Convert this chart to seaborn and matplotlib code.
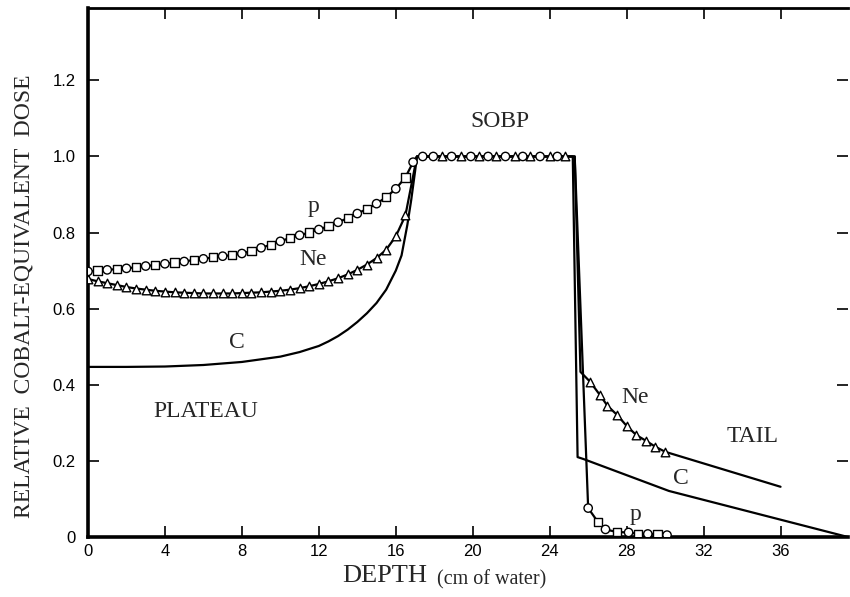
import matplotlib
matplotlib.use("Agg")
import matplotlib.pyplot as plt
import seaborn as sns
import pandas as pd

# ---------------- data ----------------
# proton (p) - entrance plateau, markers every 0.5 cm
p_rise_depth = [0, 0.5, 1, 1.5, 2, 2.5, 3, 3.5, 4, 4.5, 5, 5.5, 6, 6.5, 7, 7.5, 8,
                8.5, 9, 9.5, 10, 10.5, 11, 11.5, 12, 12.5, 13, 13.5, 14, 14.5,
                15, 15.5, 16, 16.5, 16.9]
p_rise_dose = [0.698, 0.700, 0.702, 0.704, 0.706, 0.709, 0.712, 0.715, 0.718,
               0.721, 0.724, 0.728, 0.731, 0.735, 0.738, 0.741, 0.745, 0.752,
               0.760, 0.768, 0.777, 0.786, 0.793, 0.800, 0.808, 0.817, 0.827,
               0.838, 0.850, 0.862, 0.876, 0.893, 0.915, 0.945, 0.985]
p_sobp_depth = [17.4, 17.95, 18.9, 19.9, 20.8, 21.7, 22.6, 23.5, 24.4]
p_tail_depth = [26.0, 26.5, 26.9, 27.5, 28.1, 28.6, 29.1, 29.6, 30.1]
p_tail_dose = [0.076, 0.040, 0.020, 0.013, 0.012, 0.008, 0.008, 0.008, 0.005]

# neon (Ne)
ne_rise_depth = [0, 0.5, 1, 1.5, 2, 2.5, 3, 3.5, 4, 4.5, 5, 5.5, 6, 6.5, 7, 7.5, 8,
                 8.5, 9, 9.5, 10, 10.5, 11, 11.5, 12, 12.5, 13, 13.5, 14, 14.5,
                 15, 15.5, 16, 16.5]
ne_rise_dose = [0.678, 0.672, 0.667, 0.662, 0.657, 0.653, 0.650, 0.647, 0.645,
                0.643, 0.642, 0.641, 0.640, 0.640, 0.640, 0.640, 0.641, 0.642,
                0.643, 0.645, 0.647, 0.650, 0.654, 0.659, 0.665, 0.672, 0.680,
                0.690, 0.702, 0.716, 0.733, 0.755, 0.790, 0.845]
ne_sobp_depth = [18.4, 19.4, 20.3, 21.2, 22.2, 23.0, 24.0, 24.8]
ne_tail_depth = [26.1, 26.6, 27.0, 27.5, 28.0, 28.5, 29.0, 29.5, 30.0]
ne_tail_dose = [0.408, 0.374, 0.345, 0.321, 0.292, 0.268, 0.253, 0.237, 0.224]
ne_tail_end_depth = [36.0]
ne_tail_end_dose = [0.132]

# carbon (C) - line only
c_depth = [0, 2, 4, 6, 8, 10, 11, 12, 12.5, 13, 13.5, 14, 14.5, 15, 15.5, 16,
           16.3, 16.6, 16.8, 17.0, 17.1, 25.2, 25.45, 25.75, 30.2, 39.5]
c_dose = [0.447, 0.447, 0.448, 0.452, 0.460, 0.474, 0.486, 0.502, 0.514, 0.528,
          0.545, 0.565, 0.588, 0.615, 0.650, 0.700, 0.740, 0.820, 0.885, 0.960,
          1.0, 1.0, 0.210, 0.205, 0.121, 0.0]

sobp_start = 17.1
sobp_end = 25.3
sobp_dose = 1.0

x_ticks = [0, 4, 8, 12, 16, 20, 24, 28, 32, 36]
y_ticks = [0, 0.2, 0.4, 0.6, 0.8, 1.0, 1.2]
y_ticklabels = ["0", "0.2", "0.4", "0.6", "0.8", "1.0", "1.2"]

# ---------------- build tables ----------------
p_line = pd.DataFrame({
    "depth": p_rise_depth + [sobp_start] + p_sobp_depth + [sobp_end] + p_tail_depth,
    "dose": p_rise_dose + [sobp_dose] + [sobp_dose] * len(p_sobp_depth) + [sobp_dose] + p_tail_dose,
})
ne_line = pd.DataFrame({
    "depth": ne_rise_depth + [sobp_start] + ne_sobp_depth + [sobp_end, 25.6] + ne_tail_depth + ne_tail_end_depth,
    "dose": ne_rise_dose + [sobp_dose] + [sobp_dose] * len(ne_sobp_depth) + [sobp_dose, 0.434] + ne_tail_dose + ne_tail_end_dose,
})
c_line = pd.DataFrame({"depth": c_depth, "dose": c_dose})

p_pts_depth = p_rise_depth + p_sobp_depth + p_tail_depth
p_pts_dose = p_rise_dose + [sobp_dose] * len(p_sobp_depth) + p_tail_dose
p_shapes = []
for i, d in enumerate(p_pts_depth):
    if d in p_sobp_depth:
        p_shapes.append("circle")
    else:
        p_shapes.append("square" if i % 2 else "circle")
p_pts = pd.DataFrame({"depth": p_pts_depth, "dose": p_pts_dose, "shape": p_shapes})

ne_pts = pd.DataFrame({
    "depth": ne_rise_depth + ne_sobp_depth + ne_tail_depth,
    "dose": ne_rise_dose + [sobp_dose] * len(ne_sobp_depth) + ne_tail_dose,
})

# ---------------- plot ----------------
sns.set_style("ticks")
plt.rcParams["font.family"] = ["Liberation Sans", "DejaVu Sans"]

fig = plt.figure(figsize=(8.5, 5.97), dpi=100)
ax = fig.add_axes([0.1035, 0.1005, 0.894, 0.886])

lw = 1.6
sns.lineplot(data=p_line, x="depth", y="dose", sort=False, estimator=None,
             color="black", lw=lw, ax=ax, zorder=2)
sns.lineplot(data=ne_line, x="depth", y="dose", sort=False, estimator=None,
             color="black", lw=lw, ax=ax, zorder=2)
sns.lineplot(data=c_line, x="depth", y="dose", sort=False, estimator=None,
             color="black", lw=lw, ax=ax, zorder=2)

sns.scatterplot(data=ne_pts, x="depth", y="dose", marker="^", s=38,
                color="white", edgecolor="black", linewidth=1.0, ax=ax,
                zorder=3, legend=False)
sns.scatterplot(data=p_pts, x="depth", y="dose", style="shape",
                markers={"square": "s", "circle": "o"}, s=36,
                color="white", edgecolor="black", linewidth=1.0, ax=ax,
                zorder=4, legend=False)

ax.set_xlim(0, 39.5)
ax.set_ylim(0, 1.39)
ax.set_xticks(x_ticks)
ax.set_xticklabels([str(t) for t in x_ticks])
ax.set_yticks(y_ticks)
ax.set_yticklabels(y_ticklabels)

ax.tick_params(axis="both", direction="in", labelsize=12, color="black",
               labelcolor="black")
ax.tick_params(axis="x", length=8, width=1.2, top=True, pad=5)
ax.tick_params(axis="y", length=8, width=1.2, right=True, pad=9)

for side in ["left", "bottom"]:
    ax.spines[side].set_linewidth(2.6)
    ax.spines[side].set_color("black")
ax.spines["top"].set_linewidth(2.0)
ax.spines["top"].set_color("black")
ax.spines["right"].set_visible(False)

serif = ["Liberation Serif", "DejaVu Serif"]
ax.set_ylabel("RELATIVE  COBALT-EQUIVALENT  DOSE", family=serif, fontsize=17)
ax.yaxis.set_label_coords(-0.07, 0.455)
ax.set_xlabel("DEPTH", family=serif, fontsize=19)
ax.xaxis.set_label_coords(0.39, -0.052)
ax.text(0.459, -0.0907, "(cm of water)", transform=ax.transAxes,
        family=serif, fontsize=14.5, ha="left", va="baseline")

fs = 17
ax.text(11.7, 0.868, "p", family=serif, fontsize=fs, ha="center", va="center")
ax.text(11.7, 0.729, "Ne", family=serif, fontsize=fs, ha="center", va="center")
ax.text(7.75, 0.51, "C", family=serif, fontsize=fs, ha="center", va="center")
ax.text(21.4, 1.092, "SOBP", family=serif, fontsize=fs, ha="center", va="center")
ax.text(6.14, 0.329, "PLATEAU", family=serif, fontsize=fs, ha="center", va="center")
ax.text(34.55, 0.263, "TAIL", family=serif, fontsize=fs, ha="center", va="center")
ax.text(28.45, 0.366, "Ne", family=serif, fontsize=fs, ha="center", va="center")
ax.text(30.8, 0.155, "C", family=serif, fontsize=fs, ha="center", va="center")
ax.text(28.45, 0.058, "p", family=serif, fontsize=fs, ha="center", va="center")

fig.savefig("out.png", dpi=100)
